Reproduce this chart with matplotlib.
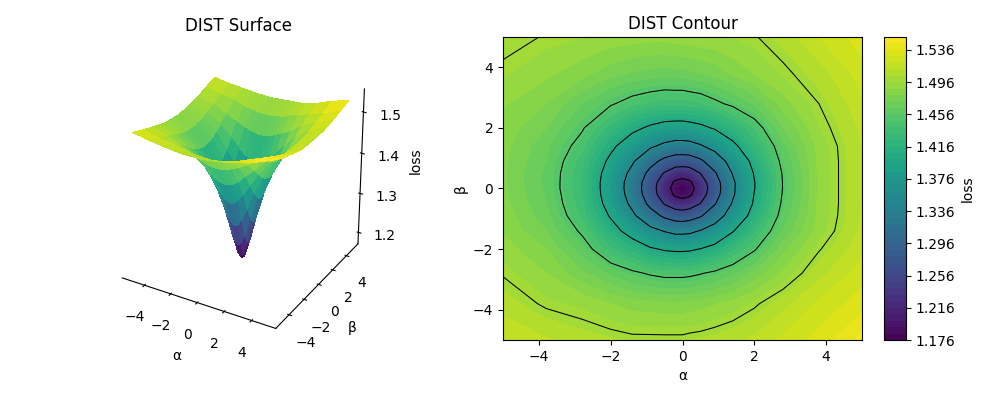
import numpy as np
import matplotlib
matplotlib.use('Agg')
import matplotlib.pyplot as plt

# grid, denser near the minimum
alpha = [-5, -3.8, -2.8, -2, -1.4, -0.9, -0.5, -0.2, 0, 0.2, 0.5, 0.9, 1.4, 2, 2.8, 3.8, 5]
beta = [-5, -3.8, -2.8, -2, -1.4, -0.9, -0.5, -0.2, 0, 0.2, 0.5, 0.9, 1.4, 2, 2.8, 3.8, 5]

# one row per beta value, one column per alpha value
loss = [
    [1.520, 1.513, 1.508, 1.505, 1.503, 1.503, 1.503, 1.503, 1.503, 1.504, 1.505, 1.507, 1.510, 1.514, 1.522, 1.531, 1.547],
    [1.508, 1.498, 1.494, 1.488, 1.484, 1.483, 1.482, 1.482, 1.482, 1.483, 1.484, 1.487, 1.491, 1.498, 1.509, 1.522, 1.532],
    [1.499, 1.488, 1.474, 1.462, 1.454, 1.448, 1.445, 1.445, 1.445, 1.446, 1.449, 1.454, 1.462, 1.474, 1.490, 1.509, 1.524],
    [1.492, 1.480, 1.459, 1.434, 1.419, 1.404, 1.397, 1.395, 1.395, 1.396, 1.401, 1.411, 1.429, 1.448, 1.477, 1.499, 1.518],
    [1.487, 1.472, 1.447, 1.413, 1.386, 1.362, 1.348, 1.340, 1.340, 1.342, 1.352, 1.370, 1.398, 1.430, 1.465, 1.492, 1.514],
    [1.485, 1.467, 1.438, 1.397, 1.358, 1.320, 1.292, 1.279, 1.276, 1.281, 1.296, 1.328, 1.371, 1.413, 1.458, 1.490, 1.513],
    [1.483, 1.464, 1.434, 1.387, 1.341, 1.289, 1.247, 1.225, 1.220, 1.227, 1.251, 1.297, 1.354, 1.404, 1.454, 1.490, 1.512],
    [1.482, 1.463, 1.432, 1.383, 1.333, 1.275, 1.224, 1.193, 1.185, 1.193, 1.227, 1.282, 1.345, 1.401, 1.452, 1.490, 1.512],
    [1.482, 1.462, 1.431, 1.382, 1.330, 1.272, 1.219, 1.185, 1.178, 1.185, 1.221, 1.278, 1.344, 1.399, 1.451, 1.490, 1.512],
    [1.481, 1.462, 1.431, 1.382, 1.331, 1.274, 1.224, 1.193, 1.185, 1.193, 1.227, 1.281, 1.344, 1.399, 1.451, 1.490, 1.512],
    [1.481, 1.462, 1.432, 1.385, 1.339, 1.287, 1.246, 1.224, 1.220, 1.225, 1.250, 1.295, 1.352, 1.402, 1.452, 1.490, 1.512],
    [1.482, 1.464, 1.435, 1.393, 1.355, 1.315, 1.288, 1.275, 1.274, 1.276, 1.292, 1.325, 1.367, 1.410, 1.456, 1.490, 1.512],
    [1.483, 1.466, 1.443, 1.407, 1.380, 1.356, 1.341, 1.334, 1.334, 1.336, 1.346, 1.364, 1.392, 1.425, 1.461, 1.491, 1.512],
    [1.485, 1.472, 1.452, 1.427, 1.408, 1.395, 1.388, 1.386, 1.386, 1.388, 1.393, 1.403, 1.420, 1.441, 1.471, 1.495, 1.514],
    [1.489, 1.480, 1.464, 1.452, 1.443, 1.438, 1.435, 1.435, 1.435, 1.437, 1.439, 1.446, 1.454, 1.465, 1.484, 1.500, 1.518],
    [1.497, 1.490, 1.483, 1.475, 1.471, 1.469, 1.468, 1.469, 1.469, 1.470, 1.472, 1.475, 1.482, 1.488, 1.497, 1.508, 1.524],
    [1.505, 1.499, 1.496, 1.493, 1.492, 1.491, 1.491, 1.492, 1.493, 1.493, 1.494, 1.495, 1.496, 1.499, 1.507, 1.520, 1.532],
]

axis_ticks = [-4, -2, 0, 2, 4]
z_ticks = [1.2, 1.3, 1.4, 1.5]
cbar_ticks = [1.176, 1.216, 1.256, 1.296, 1.336, 1.376, 1.416, 1.456, 1.496, 1.536]

A, B = np.meshgrid(alpha, beta)
Z = np.array(loss)

fig = plt.figure(figsize=(9.97, 3.99), dpi=100)

# surface
ax1 = fig.add_axes([58.5 / 997, 59 / 399, 359 / 997, 303 / 399], projection='3d')
ax1.plot_surface(A, B, Z, cmap='viridis', rstride=1, cstride=1, linewidth=0,
                 antialiased=False, shade=False)
ax1.set_box_aspect((4, 4, 4.08), zoom=0.99)
ax1.set_title('DIST Surface', y=1.08)
ax1.set_xlabel('α', labelpad=4)
ax1.set_ylabel('β', labelpad=4)
ax1.zaxis.set_rotate_label(False)
ax1.set_zlabel('loss', labelpad=6, rotation=90)
ax1.set_xticks(axis_ticks)
ax1.set_yticks(axis_ticks)
ax1.set_zticks(z_ticks)
ax1.grid(False)
for a in (ax1.xaxis, ax1.yaxis, ax1.zaxis):
    a.pane.set_visible(False)
ax1.tick_params(axis='x', pad=4)
ax1.tick_params(axis='y', pad=4)
ax1.tick_params(axis='z', pad=5)

# contour
ax2 = fig.add_axes([503 / 997, 1 - 340 / 399, 359 / 997, 303 / 399])
cf = ax2.contourf(A, B, Z, 50, cmap='viridis')
ax2.contour(A, B, Z, colors='black', linewidths=0.75)
ax2.set_title('DIST Contour')
ax2.set_xlabel('α')
ax2.set_ylabel('β')
ax2.set_xticks(axis_ticks)
ax2.set_yticks(axis_ticks)

cax = fig.add_axes([884 / 997, 1 - 340 / 399, 22 / 997, 303 / 399])
cbar = fig.colorbar(cf, cax=cax, ticks=cbar_ticks, format='%.3f')
cbar.set_label('loss')

plt.savefig('out.png', dpi=100)
